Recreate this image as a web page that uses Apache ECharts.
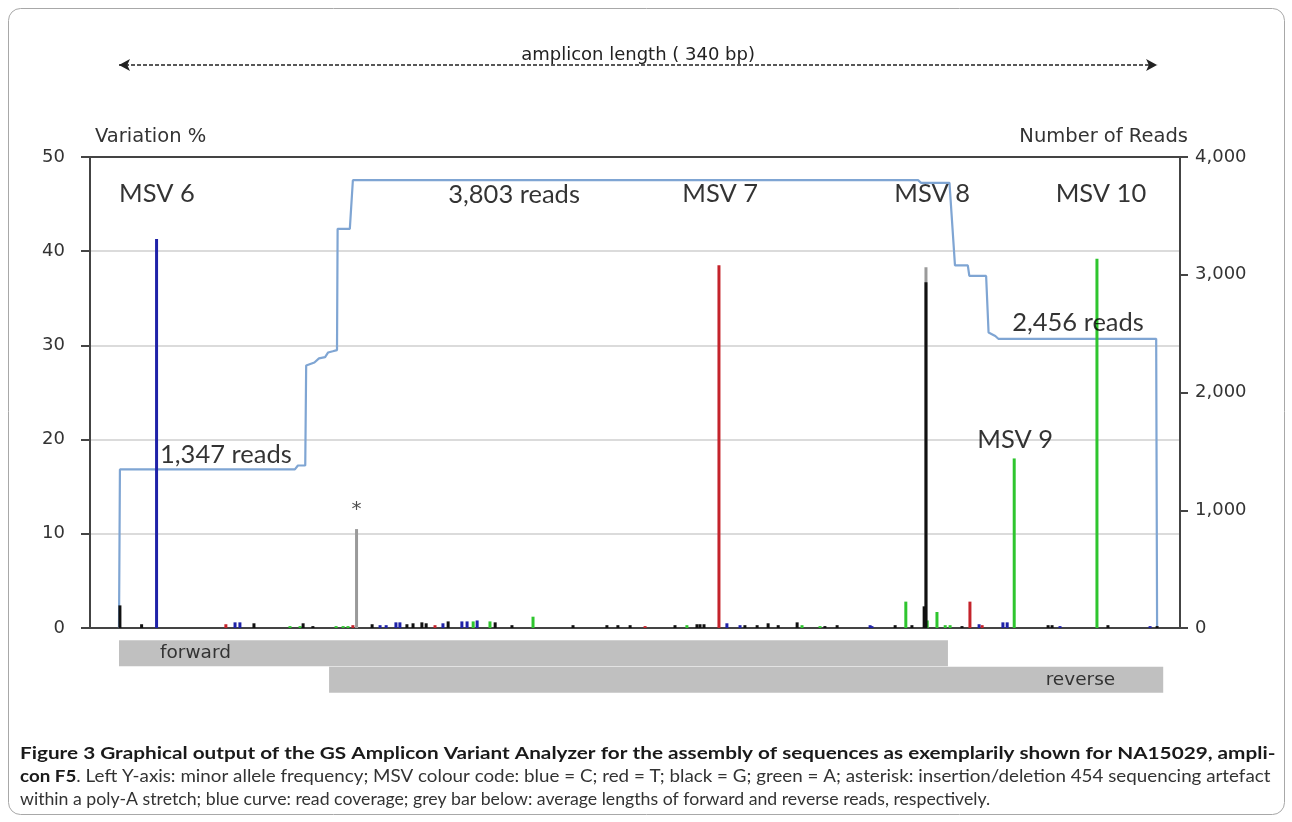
<!DOCTYPE html>
<html>
<head>
<meta charset="utf-8">
<script src="https://cdn.jsdelivr.net/npm/echarts@6/dist/echarts.min.js"></script>
<style>
html,body{margin:0;padding:0;background:#fff;}
#chart{width:1292px;height:822px;}
</style>
</head>
<body>
<div id="chart"></div>
<script>
// ---------------- DATA ----------------
const ampliconLength = 340;
const ampliconRange = [0, 340];

// read coverage (bp position, number of reads) - step curve
const coverage = [
  [0, 0], [0.3, 1347], [57.6, 1347], [58.6, 1380], [61.0, 1380], [61.3, 2230],
  [64.0, 2255], [65.5, 2290], [67.5, 2300], [68.5, 2340], [70.0, 2350],
  [71.4, 2360], [71.6, 3390], [75.6, 3390], [76.6, 3803], [261.7, 3803],
  [262.7, 3780], [272.0, 3780], [273.8, 3080], [278.0, 3080], [278.5, 2990],
  [284.0, 2990], [284.8, 2510], [287.0, 2480], [288.0, 2456], [339.7, 2456],
  [340.0, 0]
];

// variant frequencies (bp position, variation %), by base colour
const greyBars = [[77.8, 10.5], [264.3, 38.3]];
const blueBars = [
  [12.3, 41.3], [38.0, 0.6], [39.6, 0.6], [85.5, 0.3], [87.5, 0.3], [90.7, 0.6],
  [92.0, 0.6], [106.1, 0.5], [112.3, 0.7], [114.0, 0.7], [117.3, 0.8], [199.1, 0.5],
  [203.4, 0.3], [246.0, 0.3], [246.6, 0.2], [281.7, 0.4], [289.5, 0.6], [290.9, 0.6],
  [308.2, 0.2], [337.7, 0.2]
];
const redBars = [
  [35.0, 0.4], [76.6, 0.3], [103.5, 0.3], [172.3, 0.2], [196.5, 38.5], [278.7, 2.8], [282.7, 0.3]
];
const greenBars = [
  [56.0, 0.2], [59.3, 0.2], [71.1, 0.2], [73.4, 0.2], [75.0, 0.2], [116.0, 0.7],
  [121.5, 0.7], [135.6, 1.2], [186.0, 0.3], [223.7, 0.3], [229.6, 0.2], [257.7, 2.8],
  [264.7, 0.8], [267.9, 1.7], [270.6, 0.3], [272.2, 0.3], [293.2, 18.0], [320.3, 39.2]
];
const blackBars = [
  [0.3, 2.4], [7.4, 0.4], [44.2, 0.5], [60.3, 0.5], [63.5, 0.2], [82.9, 0.4],
  [94.3, 0.4], [96.3, 0.5], [99.2, 0.6], [100.6, 0.5], [107.8, 0.7], [123.2, 0.6],
  [128.7, 0.3], [148.7, 0.3], [159.8, 0.3], [163.4, 0.3], [167.4, 0.3], [182.1, 0.3],
  [189.3, 0.4], [190.3, 0.4], [191.6, 0.4], [205.0, 0.3], [209.0, 0.3], [212.6, 0.5],
  [215.9, 0.3], [222.1, 0.6], [231.2, 0.2], [235.2, 0.3], [254.2, 0.3], [259.7, 0.3],
  [263.7, 2.3], [264.3, 36.7], [276.1, 0.2], [304.3, 0.3], [305.6, 0.3], [323.9, 0.3],
  [340.0, 0.2]
];

// in-plot annotations (bp position, variation %)
const annotationTexts = ['MSV 6', '3,803 reads', 'MSV 7', 'MSV 8', 'MSV 10', '2,456 reads', 'MSV 9', '1,347 reads'];
const annotationX = [12.4, 129.4, 196.9, 266.3, 321.6, 314.1, 293.5, 35.0];
const annotationY = [46.1, 46.0, 46.1, 46.1, 46.1, 32.4, 20.0, 18.4];
const asteriskPoint = [77.8, 12.6];

// average read lengths (start, end in bp)
const readLabels = ['forward', 'reverse'];
const readStart = [0, 68.8];
const readEnd = [271.5, 342.0];

// axes
const leftAxisName = 'Variation %';
const rightAxisName = 'Number of Reads';
const leftRange = [0, 50];
const rightRange = [0, 4000];

// caption
const captionBold1 = 'Figure 3 Graphical output of the GS Amplicon Variant Analyzer for the assembly of sequences as exemplarily shown for NA15029, ampli-';
const captionBold2 = 'con F5';
const captionRest2 = '. Left Y-axis: minor allele frequency; MSV colour code: blue = C; red = T; black = G; green = A; asterisk: insertion/deletion 454 sequencing artefact';
const captionLine3 = 'within a poly-A stretch; blue curve: read coverage; grey bar below: average lengths of forward and reverse reads, respectively.';

// ---------------- CHART ----------------
const X_MIN = -9.5, X_MAX = 347.5;
const chart = echarts.init(document.getElementById('chart'), null, {renderer: 'canvas'});

function barSeries(name, data, color, width) {
  return {
    name: name,
    type: 'custom',
    xAxisIndex: 0, yAxisIndex: 0,
    z: 5,
    encode: {x: 0, y: 1},
    data: data,
    renderItem: function (params, api) {
      const x = api.value(0), y = api.value(1);
      const top = api.coord([x, y]);
      const base = api.coord([x, 0]);
      return {
        type: 'rect',
        shape: {x: top[0] - width / 2, y: top[1], width: width, height: base[1] - top[1]},
        style: {fill: color}
      };
    }
  };
}

const annFont = 'Lato, "Open Sans", sans-serif';
const capFont = 'Lato, "Open Sans", sans-serif';
const capSize = 17.7;

const option = {
  animation: false,
  backgroundColor: '#fff',
  grid: [
    {left: 90, right: 112, top: 157, height: 471, outerBoundsMode: 'none', containLabel: false},
    {left: 90, right: 112, top: 55, height: 20, outerBoundsMode: 'none', containLabel: false},
    {left: 90, right: 112, top: 640, height: 53, outerBoundsMode: 'none', containLabel: false}
  ],
  xAxis: [
    {type: 'value', gridIndex: 0, min: X_MIN, max: X_MAX, position: 'bottom',
      axisLine: {show: true, onZero: false, lineStyle: {color: '#444', width: 2}},
      axisTick: {show: false}, axisLabel: {show: false}, splitLine: {show: false}},
    {type: 'value', gridIndex: 0, min: X_MIN, max: X_MAX, position: 'top',
      axisLine: {show: true, onZero: false, lineStyle: {color: '#444', width: 2}},
      axisTick: {show: false}, axisLabel: {show: false}, splitLine: {show: false}},
    {type: 'value', gridIndex: 1, min: X_MIN, max: X_MAX, show: false},
    {type: 'value', gridIndex: 2, min: X_MIN, max: X_MAX, show: false}
  ],
  yAxis: [
    {type: 'value', gridIndex: 0, min: leftRange[0], max: leftRange[1], interval: 10, position: 'left',
      name: leftAxisName, nameLocation: 'end', nameGap: 20,
      nameTextStyle: {fontFamily: 'DejaVu Sans', fontSize: 19.5, color: '#333', align: 'left', verticalAlign: 'middle', padding: [0, 0, 0, 5]},
      axisLine: {show: true, onZero: false, lineStyle: {color: '#444', width: 2}},
      axisTick: {show: true, length: 9, lineStyle: {color: '#444', width: 2}},
      axisLabel: {fontFamily: 'DejaVu Sans', fontSize: 18, color: '#333', margin: 25},
      splitLine: {show: true, lineStyle: {color: '#cfcfcf', width: 1.5}}},
    {type: 'value', gridIndex: 0, min: rightRange[0], max: rightRange[1], interval: 1000, position: 'right',
      name: rightAxisName, nameLocation: 'end', nameGap: 20,
      nameTextStyle: {fontFamily: 'DejaVu Sans', fontSize: 19.5, color: '#333', align: 'right', verticalAlign: 'middle', padding: [0, -8, 0, 0]},
      axisLine: {show: true, onZero: false, lineStyle: {color: '#444', width: 2}},
      axisTick: {show: true, length: 8, lineStyle: {color: '#444', width: 2}},
      axisLabel: {fontFamily: 'DejaVu Sans', fontSize: 18, color: '#333', margin: 15,
        formatter: function (v) { return v.toLocaleString('en-US'); }},
      splitLine: {show: false}},
    {type: 'value', gridIndex: 1, min: -1, max: 1, show: false},
    {type: 'category', gridIndex: 2, data: readLabels, inverse: true, show: false}
  ],
  graphic: [
    {type: 'rect', shape: {x: 8.5, y: 8.5, width: 1276, height: 806, r: 12}, silent: true,
      style: {fill: 'none', stroke: '#a8a8a8', lineWidth: 1}},
    {type: 'text', x: 20, y: 753, scaleX: 1.172, silent: true,
      style: {text: captionBold1, font: 'bold ' + capSize + 'px ' + capFont, fill: '#1a1a1a', verticalAlign: 'middle'}},
    {type: 'text', x: 20, y: 776, scaleX: 1.062, silent: true,
      style: {text: '{b|' + captionBold2 + '}{r|' + captionRest2 + '}', verticalAlign: 'middle',
        rich: {b: {font: 'bold ' + capSize + 'px ' + capFont, fill: '#1a1a1a'},
               r: {font: capSize + 'px ' + capFont, fill: '#333'}}}},
    {type: 'text', x: 20, y: 799, silent: true,
      style: {text: captionLine3, font: capSize + 'px ' + capFont, fill: '#333', verticalAlign: 'middle'}}
  ],
  series: [
    // coverage curve
    {name: 'coverage', type: 'line', xAxisIndex: 0, yAxisIndex: 1, data: coverage,
      showSymbol: false, symbol: 'none', z: 3,
      lineStyle: {color: '#7fa5d3', width: 2.2}},
    barSeries('grey', greyBars, '#9a9a9a', 3),
    barSeries('blue', blueBars, '#1f22a8', 3),
    barSeries('red', redBars, '#c4232b', 3),
    barSeries('green', greenBars, '#2ec52e', 3),
    barSeries('black', blackBars, '#111111', 3),
    // annotations
    {name: 'annotations', type: 'scatter', xAxisIndex: 0, yAxisIndex: 0, z: 6,
      symbolSize: 1, itemStyle: {color: 'transparent'},
      data: annotationTexts.map(function (t, i) { return {name: t, value: [annotationX[i], annotationY[i]]}; }),
      label: {show: true, position: 'inside', formatter: '{b}', fontFamily: annFont, fontSize: 25.5, color: '#000'}},
    {name: 'asterisk', type: 'scatter', xAxisIndex: 0, yAxisIndex: 0, z: 6,
      symbolSize: 1, itemStyle: {color: 'transparent'},
      data: [{name: '*', value: asteriskPoint}],
      label: {show: true, position: 'inside', formatter: '{b}', fontFamily: 'DejaVu Sans', fontSize: 20, color: '#222'}},
    // amplicon length arrow
    {name: 'amplicon', type: 'line', xAxisIndex: 2, yAxisIndex: 2,
      data: ampliconRange.map(function (v) { return [v, 0]; }),
      showSymbol: false, symbol: 'none', lineStyle: {width: 0, opacity: 0},
      markLine: {silent: true, symbol: ['arrow', 'arrow'], symbolSize: [9, 11],
        lineStyle: {color: '#222', width: 1.5, type: [4, 2]},
        label: {show: true, position: 'middle', distance: 1,
          formatter: 'amplicon length ( ' + ampliconLength + ' bp)',
          fontFamily: 'DejaVu Sans', fontSize: 18, color: '#222'},
        data: [[{coord: [ampliconRange[0], 0]}, {coord: [ampliconRange[1], 0]}]]}},
    // read lengths
    {name: 'readBase', type: 'bar', xAxisIndex: 3, yAxisIndex: 3, stack: 'reads',
      barCategoryGap: '2%', itemStyle: {color: 'transparent'}, data: readStart},
    {name: 'readLength', type: 'bar', xAxisIndex: 3, yAxisIndex: 3, stack: 'reads',
      barCategoryGap: '2%', itemStyle: {color: '#c0c0c0'},
      data: readStart.map(function (s, i) {
        return {value: readEnd[i] - s,
          label: {show: true, formatter: readLabels[i],
            position: i === 0 ? 'insideLeft' : 'insideRight', distance: i === 0 ? 41 : 48,
            fontFamily: 'DejaVu Sans', fontSize: 18.5, color: '#333'}};
      })}
  ]
};
chart.setOption(option);
</script>
</body>
</html>
